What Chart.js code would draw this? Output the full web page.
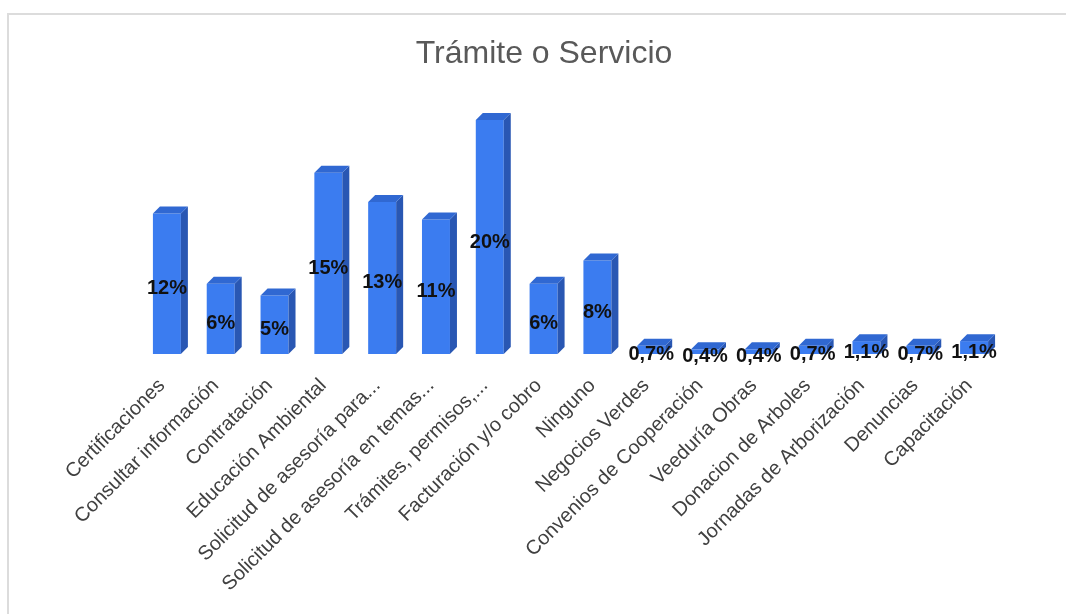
<!DOCTYPE html>
<html>
<head>
<meta charset="utf-8">
<script src="https://cdn.jsdelivr.net/npm/chart.js@4.4.1/dist/chart.umd.min.js"></script>
<style>
  html, body { margin: 0; padding: 0; background: #fff; }
  #wrap { position: relative; width: 1066px; height: 614px; overflow: hidden; }
  #frame { position: absolute; left: 7px; top: 13px; width: 1100px; height: 700px;
           border-top: 2px solid #dcdcdc; border-left: 2px solid #dcdcdc; }
  canvas { position: absolute; left: 0; top: 0; }
</style>
</head>
<body>
<div id="wrap">
  <div id="frame"></div>
  <canvas id="chart" width="1066" height="614"></canvas>
</div>
<script>
// Data
const chartTitle = 'Trámite o Servicio';
const categories = [
  'Certificaciones', 'Consultar información', 'Contratación', 'Educación Ambiental',
  'Solicitud de asesoría para...', 'Solicitud de asesoría en temas...', 'Trámites, permisos,...',
  'Facturación y/o cobro', 'Ninguno', 'Negocios Verdes', 'Convenios de Cooperación',
  'Veeduría Obras', 'Donacion de Arboles', 'Jornadas de Arborización', 'Denuncias', 'Capacitación'
];
const percentages = [12, 6, 5, 15.5, 13, 11.5, 20, 6, 8, 0.7, 0.4, 0.4, 0.7, 1.1, 0.7, 1.1];
const valueLabels = ['12%', '6%', '5%', '15%', '13%', '11%', '20%', '6%', '8%',
  '0,7%', '0,4%', '0,4%', '0,7%', '1,1%', '0,7%', '1,1%'];

const FONT = '"Liberation Sans", Arial, sans-serif';
const FRONT = '#3b7cf0';
const SIDE = '#2957b3';
const TOP = '#3068d2';
const DEPTH = 7;

// fake 3D: side and top faces from each bar element
const bar3d = {
  id: 'bar3d',
  afterDatasetsDraw(chart) {
    const ctx = chart.ctx;
    chart.getDatasetMeta(0).data.forEach((bar) => {
      const l = bar.x - bar.width / 2, r = bar.x + bar.width / 2;
      const t = bar.y, b = bar.base;
      ctx.save();
      ctx.fillStyle = SIDE;
      ctx.beginPath();
      ctx.moveTo(r, t);
      ctx.lineTo(r + DEPTH, t - DEPTH);
      ctx.lineTo(r + DEPTH, b - DEPTH);
      ctx.lineTo(r, b);
      ctx.closePath();
      ctx.fill();
      ctx.fillStyle = TOP;
      ctx.beginPath();
      ctx.moveTo(l, t);
      ctx.lineTo(l + DEPTH, t - DEPTH);
      ctx.lineTo(r + DEPTH, t - DEPTH);
      ctx.lineTo(r, t);
      ctx.closePath();
      ctx.fill();
      ctx.restore();
    });
  }
};

// value labels centred on the bars, plus the title
const texts = {
  id: 'texts',
  afterDatasetsDraw(chart) {
    const ctx = chart.ctx;
    ctx.save();
    ctx.font = 'bold 20px ' + FONT;
    ctx.fillStyle = '#111';
    ctx.textAlign = 'center';
    ctx.textBaseline = 'middle';
    chart.getDatasetMeta(0).data.forEach((bar, i) => {
      ctx.fillText(valueLabels[i], bar.x, (bar.y + bar.base) / 2 + 5);
    });
    ctx.font = '32px ' + FONT;
    ctx.fillStyle = '#595959';
    ctx.textBaseline = 'alphabetic';
    ctx.fillText(chartTitle, 544, 63);
    ctx.restore();
  }
};

new Chart(document.getElementById('chart'), {
  type: 'bar',
  data: {
    labels: categories,
    datasets: [{
      data: percentages,
      backgroundColor: FRONT,
      borderWidth: 0,
      barPercentage: 0.52,
      categoryPercentage: 1
    }]
  },
  plugins: [bar3d, texts],
  options: {
    responsive: false,
    animation: false,
    layout: { padding: { left: 140, right: 65, top: 120, bottom: 0 } },
    plugins: {
      legend: { display: false },
      tooltip: { enabled: false },
      title: { display: false }
    },
    scales: {
      x: {
        grid: { display: false, drawTicks: false },
        border: { display: false },
        ticks: {
          color: '#404040',
          font: { family: FONT, size: 20 },
          maxRotation: 45,
          minRotation: 45,
          autoSkip: false,
          padding: 20,
          labelOffset: -5
        },
        afterFit(scale) { scale.height = 260; }
      },
      y: {
        display: false,
        min: 0,
        max: 20
      }
    }
  }
});
</script>
</body>
</html>
